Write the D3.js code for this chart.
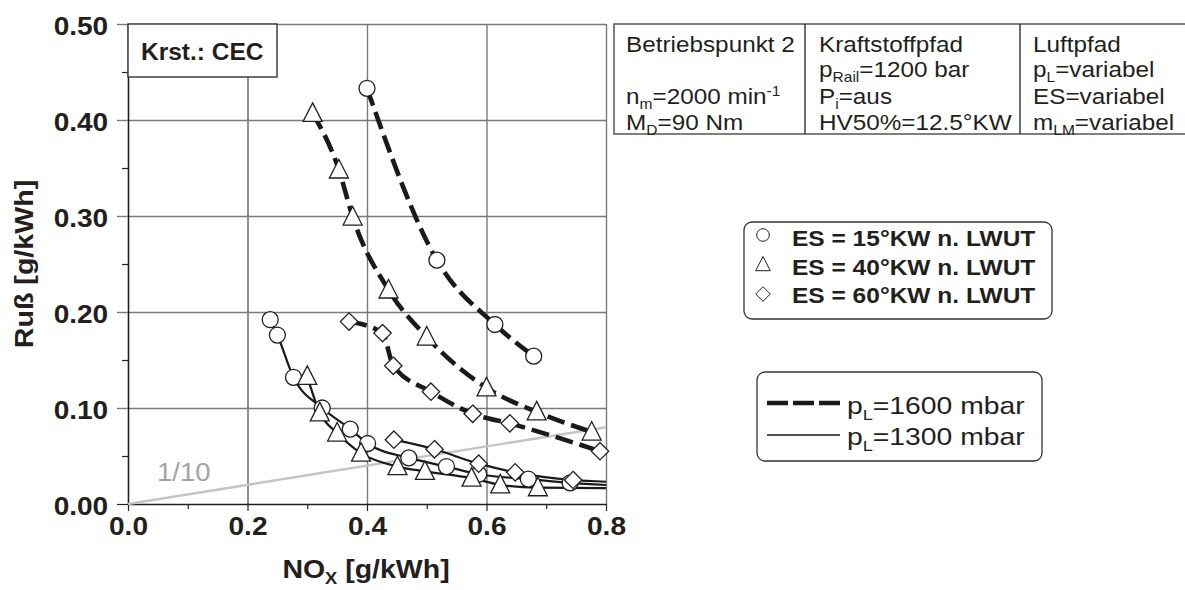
<!DOCTYPE html>
<html>
<head>
<meta charset="utf-8">
<script src="https://cdn.jsdelivr.net/npm/d3@7"></script>
<style>
  body { margin: 0; background: #fff; }
  svg { font-family: "Liberation Sans", Arial, sans-serif; }
</style>
</head>
<body>
<svg></svg>
<script>
let width = 1185, height = 590;

// Achsen
let xTicks = [0, 0.2, 0.4, 0.6, 0.8];
let xMinor = [0.1, 0.3, 0.5, 0.7];
let yTicks = [0, 0.1, 0.2, 0.3, 0.4, 0.5];
let yMinor = [0.05, 0.15, 0.25, 0.35, 0.45];

// pL = 1600 mbar (gestrichelt)
let es15_1600_nox  = [0.400, 0.517, 0.614, 0.679];
let es15_1600_russ = [0.433, 0.254, 0.187, 0.154];
let es40_1600_nox  = [0.309, 0.353, 0.376, 0.436, 0.500, 0.600, 0.684, 0.776];
let es40_1600_russ = [0.407, 0.348, 0.299, 0.223, 0.174, 0.121, 0.096, 0.075];
let es60_1600_nox  = [0.370, 0.426, 0.444, 0.507, 0.577, 0.639, 0.790];
let es60_1600_russ = [0.190, 0.178, 0.144, 0.117, 0.094, 0.084, 0.055];

// pL = 1300 mbar (durchgezogen)
let es15_1300_nox  = [0.238, 0.250, 0.277, 0.325, 0.372, 0.401, 0.470, 0.533, 0.587, 0.670, 0.740];
let es15_1300_russ = [0.192, 0.176, 0.132, 0.100, 0.078, 0.063, 0.048, 0.039, 0.031, 0.026, 0.022];
let es40_1300_nox  = [0.300, 0.321, 0.350, 0.390, 0.451, 0.497, 0.575, 0.623, 0.686];
let es40_1300_russ = [0.133, 0.095, 0.074, 0.053, 0.039, 0.034, 0.027, 0.020, 0.017];
let es60_1300_nox  = [0.445, 0.513, 0.587, 0.648, 0.745];
let es60_1300_russ = [0.067, 0.057, 0.042, 0.033, 0.025];
// Ausgleichskurven laufen bis zum rechten Rand weiter (Ruß bei NOx = 0.8)
let tail1300_russ = [0.0198, 0.0165, 0.0232];

// Verhältnislinie Ruß/NOx = 1/10
let ratioNox = [0, 0.8];
let ratioRuss = [0, 0.08];

let legendShapes = ["circle", "triangle", "diamond"];
let legendLabels = ["ES = 15°KW n. LWUT", "ES = 40°KW n. LWUT", "ES = 60°KW n. LWUT"];
let lineLabels = ["1600", "1300"];

let series = [
  {nox: es15_1600_nox, russ: es15_1600_russ, shape: "circle", dashed: true},
  {nox: es40_1600_nox, russ: es40_1600_russ, shape: "triangle", dashed: true},
  {nox: es60_1600_nox, russ: es60_1600_russ, shape: "diamond", dashed: true},
  {nox: es15_1300_nox, russ: es15_1300_russ, shape: "circle", dashed: false, tail: tail1300_russ[0]},
  {nox: es40_1300_nox, russ: es40_1300_russ, shape: "triangle", dashed: false, tail: tail1300_russ[1]},
  {nox: es60_1300_nox, russ: es60_1300_russ, shape: "diamond", dashed: false, tail: tail1300_russ[2]}
];

let svg = d3.select("svg")
  .attr("width", width)
  .attr("height", height);

let x = d3.scaleLinear().domain([0, 0.8]).range([128, 606]);
let y = d3.scaleLinear().domain([0, 0.5]).range([504, 24]);
let ink = "#231f20";

// Symbole
function shapePath(shape, s) {
  if (shape == "circle") return d3.symbol(d3.symbolCircle, Math.PI * s * s)();
  if (shape == "triangle") return `M0,${-s * 1.1}L${s},${s * 0.85}L${-s},${s * 0.85}Z`;
  return `M0,${-s}L${s},0L0,${s}L${-s},0Z`;
}

// Text mit Teilen (normal / tief / hoch), horizontal gestreckt wie im Original
function richText(parent, px, py, parts, size, sx, weight, anchor) {
  let t = parent.append("text")
    .attr("transform", `translate(${px},${py}) scale(${sx},1)`)
    .attr("font-size", size)
    .attr("font-weight", weight || "normal")
    .attr("text-anchor", anchor || "start")
    .attr("fill", ink);
  let shift = 0;
  parts.forEach(p => {
    let txt = typeof p == "string" ? p : p[0];
    let kind = typeof p == "string" ? "" : p[1];
    let target = kind == "sub" ? size * 0.24 : kind == "sup" ? -size * 0.36 : 0;
    t.append("tspan")
      .attr("dy", target - shift)
      .attr("font-size", kind ? size * 0.64 : size)
      .text(txt);
    shift = target;
  });
  return t;
}

// Gitter
svg.append("g")
  .attr("transform", "translate(0,504)")
  .call(d3.axisBottom(x).tickValues(xTicks.slice(1)).tickSize(-480).tickFormat(""))
  .call(g => g.select(".domain").remove())
  .call(g => g.selectAll("line")
    .attr("stroke", d => d == 0.2 ? "#333" : "#7a7a7a")
    .attr("stroke-width", d => d == 0.2 ? 1.1 : 1.4));
svg.append("g")
  .attr("transform", "translate(128,0)")
  .call(d3.axisLeft(y).tickValues(yTicks.slice(1)).tickSize(-478).tickFormat(""))
  .call(g => g.select(".domain").remove())
  .call(g => g.selectAll("line").attr("stroke", "#7a7a7a").attr("stroke-width", 1.4));

// Nebenteilstriche
svg.append("g")
  .attr("transform", "translate(0,504)")
  .call(d3.axisBottom(x).tickValues(xMinor).tickSize(5).tickFormat(""))
  .call(g => g.select(".domain").remove())
  .call(g => g.selectAll("line").attr("stroke", ink).attr("stroke-width", 1.2));
svg.append("g")
  .attr("transform", "translate(128,0)")
  .call(d3.axisLeft(y).tickValues(yMinor).tickSize(6).tickFormat(""))
  .call(g => g.select(".domain").remove())
  .call(g => g.selectAll("line").attr("stroke", ink).attr("stroke-width", 1.2));

// Achsen mit Beschriftung
let xAxis = svg.append("g")
  .attr("transform", "translate(0,504)")
  .call(d3.axisBottom(x).tickValues(xTicks).tickSize(7).tickPadding(6).tickSizeOuter(0).tickFormat(d3.format(".1f")));
let yAxis = svg.append("g")
  .attr("transform", "translate(128,0)")
  .call(d3.axisLeft(y).tickValues(yTicks).tickSize(11).tickPadding(7).tickSizeOuter(0).tickFormat(d3.format(".2f")));
[xAxis, yAxis].forEach(a => {
  a.select(".domain").attr("stroke", ink).attr("stroke-width", 1.6);
  a.selectAll("line").attr("stroke", ink).attr("stroke-width", 1.2);
  a.selectAll("text")
    .attr("font-size", 25.5)
    .attr("font-weight", "bold")
    .attr("font-family", "Liberation Sans, Arial, sans-serif")
    .attr("fill", ink)
    .attr("transform", "scale(1.1,1)");
});
yAxis.selectAll("line").filter(d => d > 0).attr("stroke", "#7a7a7a").attr("stroke-width", 1.4);
yAxis.selectAll("text").attr("dy", "0.4em");

// 1/10-Linie
svg.append("line")
  .attr("x1", x(ratioNox[0])).attr("y1", y(ratioRuss[0]))
  .attr("x2", x(ratioNox[1])).attr("y2", y(ratioRuss[1]))
  .attr("stroke", "#c4c4c4").attr("stroke-width", 2.4);
richText(svg, 157, 481, ["1/10"], 25, 1.1).attr("fill", "#a3a3a3").selectAll("tspan").attr("fill", "#a3a3a3");

// Kurven
let line = d3.line()
  .x(d => x(d[0]))
  .y(d => y(d[1]))
  .curve(d3.curveMonotoneX);

series.forEach(s => {
  let pts = s.nox.map((v, i) => [v, s.russ[i]]);
  let linePts = s.tail != null ? pts.concat([[x.domain()[1], s.tail]]) : pts;
  svg.append("path")
    .attr("d", line(linePts))
    .attr("fill", "none")
    .attr("stroke", "#1a1a1a")
    .attr("stroke-width", s.dashed ? 4.6 : 2.2)
    .attr("stroke-dasharray", s.dashed ? "18,7" : null);
  s.pts = pts;
});
series.forEach(s => {
  let size = s.shape == "circle" ? 8 : s.shape == "triangle" ? 9.5 : 8.7;
  svg.append("g").selectAll("path")
    .data(s.pts)
    .enter().append("path")
    .attr("transform", d => `translate(${x(d[0])},${y(d[1])})`)
    .attr("d", shapePath(s.shape, size))
    .attr("fill", "#fff")
    .attr("stroke", ink)
    .attr("stroke-width", 1.3);
});

// Kraftstoffkennung
svg.append("rect")
  .attr("x", 128).attr("y", 24).attr("width", 149).attr("height", 53)
  .attr("fill", "#fff").attr("stroke", "#333").attr("stroke-width", 1.4);
richText(svg, 141, 60, ["Krst.: CEC"], 24.5, 1, "bold");

// Achsentitel
richText(svg, 33, 264, ["Ruß [g/kWh]"], 26, 1.1, "bold", "middle")
  .attr("transform", "translate(33,264) rotate(-90) scale(1.1,1)");
richText(svg, 366, 578, ["NO", ["X", "sub"], " [g/kWh]"], 25, 1.14, "bold", "middle");

// Tabelle Betriebspunkt
let tab = svg.append("g");
tab.append("rect")
  .attr("x", 614).attr("y", 24).attr("width", 620).attr("height", 110)
  .attr("fill", "none").attr("stroke", "#555").attr("stroke-width", 1.5);
[805, 1020].forEach(cx => tab.append("line")
  .attr("x1", cx).attr("x2", cx).attr("y1", 24).attr("y2", 134)
  .attr("stroke", ink).attr("stroke-width", 1.3));
let rowY = [51.7, 77, 103.5, 130];
let tableCols = [
  {x: 626, rows: [["Betriebspunkt 2"], null, ["n", ["m", "sub"], "=2000 min", ["-1", "sup"]], ["M", ["D", "sub"], "=90 Nm"]]},
  {x: 819, rows: [["Kraftstoffpfad"], ["p", ["Rail", "sub"], "=1200 bar"], ["P", ["i", "sub"], "=aus"], ["HV50%=12.5°KW"]]},
  {x: 1033, rows: [["Luftpfad"], ["p", ["L", "sub"], "=variabel"], ["ES=variabel"], ["m", ["LM", "sub"], "=variabel"]]}
];
tableCols.forEach(c => c.rows.forEach((r, i) => {
  if (r) richText(tab, c.x, rowY[i], r, 21.5, 1.13);
}));

// Legende Symbole
let leg1 = svg.append("g");
leg1.append("rect")
  .attr("x", 744).attr("y", 222).attr("width", 308).attr("height", 97).attr("rx", 8)
  .attr("fill", "#fff").attr("stroke", "#333").attr("stroke-width", 1.3);
legendShapes.forEach((sh, i) => {
  let ly = 235 + i * 29.5;
  leg1.append("path")
    .attr("transform", `translate(763,${ly})`)
    .attr("d", shapePath(sh, sh == "circle" ? 6.3 : 7.3))
    .attr("fill", "#fff").attr("stroke", ink).attr("stroke-width", 1);
  richText(leg1, 792, 246 + i * 28.7, [legendLabels[i]], 22.5, 1.09, "bold");
});

// Legende Linien
let leg2 = svg.append("g");
leg2.append("rect")
  .attr("x", 757).attr("y", 372).attr("width", 285).attr("height", 89).attr("rx", 8)
  .attr("fill", "#fff").attr("stroke", "#333").attr("stroke-width", 1.3);
lineLabels.forEach((lab, i) => {
  let ly = 403 + i * 32;
  leg2.append("line")
    .attr("x1", 767).attr("x2", 840).attr("y1", ly).attr("y2", ly)
    .attr("stroke", "#1a1a1a")
    .attr("stroke-width", i == 0 ? 4.6 : 1.5)
    .attr("stroke-dasharray", i == 0 ? "21,5" : null);
  richText(leg2, 847, 414 + i * 31, ["p", ["L", "sub"], "=" + lab + " mbar"], 24, 1.18);
});
</script>
</body>
</html>
